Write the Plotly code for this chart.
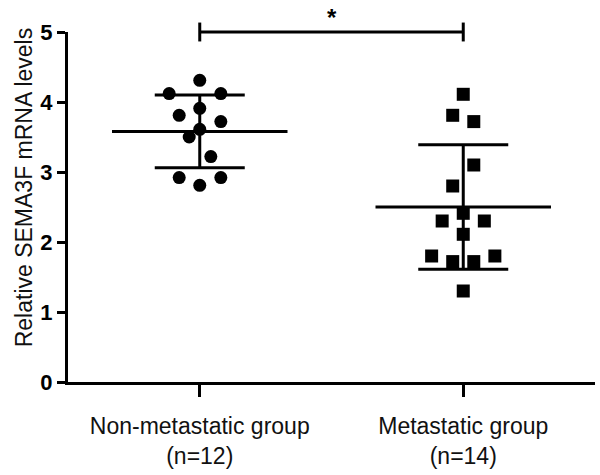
import plotly.graph_objects as go

# ---- data ----
categories = ["Non-metastatic group<br>(n=12)", "Metastatic group<br>(n=14)"]
non_met_values = [4.31, 4.12, 4.12, 3.91, 3.81, 3.72, 3.61, 3.50, 3.22, 2.92, 2.81, 2.92]
non_met_offsets = [0.0, -0.116, 0.08, 0.0, -0.078, 0.08, 0.0, -0.04, 0.042, -0.078, 0.0, 0.08]
met_values = [4.11, 3.81, 3.72, 3.10, 2.80, 2.41, 2.30, 2.30, 2.11, 1.80, 1.72, 1.72, 1.80, 1.30]
met_offsets = [0.0, -0.04, 0.04, 0.04, -0.04, 0.0, -0.08, 0.08, 0.0, -0.12, -0.04, 0.04, 0.12, 0.0]
group_means = [3.58, 2.50]
group_sds = [0.52, 0.89]
y_tick_vals = [0, 1, 2, 3, 4, 5]
y_title = "Relative SEMA3F mRNA levels"
sig_label = "*"

FONT = "Liberation Sans, Arial, sans-serif"
fig = go.Figure()

# mean lines
for i, m in enumerate(group_means):
    fig.add_trace(go.Scatter(x=[i - 0.333, i + 0.333], y=[m, m], mode="lines",
                             line=dict(color="black", width=3), showlegend=False,
                             hoverinfo="skip"))
# SD error bars
fig.add_trace(go.Scatter(x=[0, 1], y=group_means, mode="markers",
                         marker=dict(size=1, color="rgba(0,0,0,0)"),
                         error_y=dict(type="data", array=group_sds, visible=True,
                                      color="black", thickness=3, width=45),
                         showlegend=False, hoverinfo="skip"))
# points
fig.add_trace(go.Scatter(x=[0 + o for o in non_met_offsets], y=non_met_values, mode="markers",
                         marker=dict(symbol="circle", size=13, color="black"),
                         showlegend=False, cliponaxis=False))
fig.add_trace(go.Scatter(x=[1 + o for o in met_offsets], y=met_values, mode="markers",
                         marker=dict(symbol="square", size=13, color="black"),
                         showlegend=False, cliponaxis=False))

# significance bar
bar_kw = dict(xref="x", yref="paper", line=dict(color="black", width=3))
fig.add_shape(type="line", x0=0, x1=1, y0=1.0, y1=1.0, **bar_kw)
fig.add_shape(type="line", x0=0, x1=0, y0=0.973, y1=1.027, **bar_kw)
fig.add_shape(type="line", x0=1, x1=1, y0=0.973, y1=1.027, **bar_kw)
fig.add_annotation(x=0.5, xref="x", y=1.04, yref="paper", text=sig_label, showarrow=False,
                   yanchor="middle", font=dict(family=FONT, size=24, color="black", weight="bold"))

# y title
fig.add_annotation(x=-0.083, xref="paper", y=0.557, yref="paper", text=y_title,
                   showarrow=False, textangle=-90, xanchor="center", yanchor="middle",
                   font=dict(family=FONT, size=23, color="#111"))

fig.update_layout(
    width=600, height=475,
    margin=dict(l=68, r=5, t=32, b=93),
    plot_bgcolor="white", paper_bgcolor="white",
    hovermode=False,
    xaxis=dict(range=[-0.5, 1.5], tickvals=[0, 1], ticktext=categories,
               showline=True, linecolor="black", linewidth=3, showgrid=False,
               zeroline=False, ticks="outside", ticklen=12, tickwidth=3, tickcolor="black",
               ticklabelstandoff=9,
               tickfont=dict(family=FONT, size=23, color="#111"), automargin=False),
    yaxis=dict(range=[0, 5], tickvals=y_tick_vals,
               showline=True, linecolor="black", linewidth=3, showgrid=False,
               zeroline=False, ticks="outside", ticklen=8, tickwidth=3, tickcolor="black",
               tickfont=dict(family=FONT, size=22, color="black", weight="bold"), automargin=False),
)

fig.write_html("out.html", config={"displayModeBar": False, "staticPlot": True},
               post_script="document.body.style.margin='0';document.body.style.overflow='hidden';")
